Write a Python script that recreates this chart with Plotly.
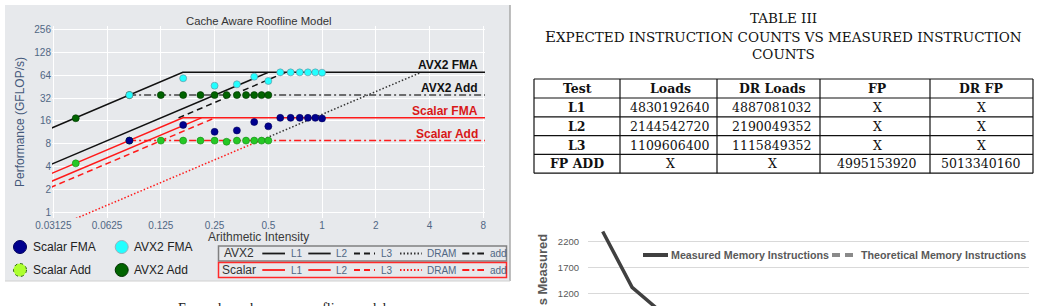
import math
import plotly.graph_objects as go

W, H = 1040, 306

# ---------------- data: cache aware roofline ----------------
ai_fma = [0.0833, 0.1667, 0.25, 0.3333, 0.4167, 0.5, 0.5833, 0.6667, 0.75, 0.8333, 0.9167, 1.0]
scalar_fma_perf = [8.8, 14.2, 11.5, 12.0, 15.5, 13.6, 17.6, 17.6, 17.6, 17.6, 17.6, 17.3]
avx2_fma_perf = [35.2, 58.8, 46.9, 48.9, 61.7, 54.1, 70.4, 70.4, 70.4, 70.4, 70.4, 69.7]
ai_add = [0.0417, 0.0833, 0.125, 0.1667, 0.2083, 0.25, 0.2917, 0.3333, 0.375, 0.4167, 0.4583, 0.5]
scalar_add_perf = [4.4, 8.8, 8.8, 8.8, 8.8, 8.8, 8.5, 8.8, 8.8, 8.8, 8.8, 8.8]
avx2_add_perf = [17.4, 35.2, 35.2, 35.2, 35.2, 35.2, 35.2, 35.2, 35.2, 35.2, 35.2, 35.2]

# roof segments: arithmetic intensity / GFLOP/s
avx2_l1_ai, avx2_l1_perf = [0.03, 0.166, 8.6], [12.7, 70.4, 70.4]
avx2_l2_ai, avx2_l2_perf = [0.03, 0.5], [4.22, 70.4]
avx2_l3_ai, avx2_l3_perf = [0.157, 0.625], [17.6, 70.4]
avx2_dram_ai, avx2_dram_perf = [0.449, 3.59], [8.8, 70.4]
avx2_add_ai, avx2_add_roof = [0.083, 8.6], [35.2, 35.2]
scalar_l1_ai, scalar_l1_perf = [0.03, 0.166, 8.6], [3.18, 17.6, 17.6]
scalar_l2_ai, scalar_l2_perf = [0.03, 0.211], [2.5, 17.6]
scalar_l3_ai, scalar_l3_perf = [0.03, 0.251], [2.1, 17.6]
scalar_dram_ai, scalar_dram_perf = [0.03, 0.449], [0.59, 8.8]
scalar_add_ai, scalar_add_roof = [0.083, 8.6], [8.8, 8.8]

roof_labels = ["AVX2 FMA", "AVX2 Add", "Scalar FMA", "Scalar Add"]
roof_label_values = [70.4, 35.2, 17.6, 8.8]

x_tickvals = [0.03125, 0.0625, 0.125, 0.25, 0.5, 1, 2, 4, 8]
x_ticktext = ["0.03125", "0.0625", "0.125", "0.25", "0.5", "1", "2", "4", "8"]
y_tickvals = [1, 2, 4, 8, 16, 32, 64, 128, 256]
y_ticktext = ["1", "2", "4", "8", "16", "32", "64", "128", "256"]

# ---------------- data: table ----------------
table_header = ["Test", "Loads", "DR Loads", "FP", "DR FP"]
table_tests = ["L1", "L2", "L3", "FP ADD"]
table_loads = ["4830192640", "2144542720", "1109606400", "X"]
table_dr_loads = ["4887081032", "2190049352", "1115849352", "X"]
table_fp = ["X", "X", "X", "4995153920"]
table_dr_fp = ["X", "X", "X", "5013340160"]

# ---------------- data: memory instruction chart (partial) ----------------
mem_x = [0, 1, 2]
mem_measured = [2394, 1316, 830]
mem_ticks = [1200, 1700, 2200]


def fx(px):
    return px / W


def fy(py):
    return 1 - py / H


SANS = "Liberation Sans, Arial, sans-serif"
SERIF = "DejaVu Serif, serif"
TICK = "#506784"

fig = go.Figure()


def roof(x, y, color, dash, width=1.5):
    fig.add_trace(go.Scatter(x=x, y=y, mode="lines", xaxis="x", yaxis="y",
                             line=dict(color=color, dash=dash, width=width),
                             showlegend=False, hoverinfo="skip"))


BLACK = "#111111"
RED = "#ff1a1a"
DOT = "1.5px,2px"
DASH = "6px,4px"
DASHDOT = "7px,3px,2px,3px"

roof(avx2_l1_ai, avx2_l1_perf, BLACK, "solid")
roof(avx2_l2_ai, avx2_l2_perf, BLACK, "solid")
roof(avx2_l3_ai, avx2_l3_perf, BLACK, DASH)
roof(avx2_dram_ai, avx2_dram_perf, "#333333", DOT)
roof(avx2_add_ai, avx2_add_roof, "#444444", DASHDOT)
roof(scalar_l1_ai, scalar_l1_perf, RED, "solid")
roof(scalar_l2_ai, scalar_l2_perf, RED, "solid")
roof(scalar_l3_ai, scalar_l3_perf, RED, DASH)
roof(scalar_dram_ai, scalar_dram_perf, RED, DOT)
roof(scalar_add_ai, scalar_add_roof, RED, DASHDOT)


def pts(x, y, color, outline):
    fig.add_trace(go.Scatter(x=x, y=y, mode="markers", xaxis="x", yaxis="y",
                             marker=dict(size=7, color=color, line=dict(color=outline, width=0.6)),
                             showlegend=False, hoverinfo="skip"))


pts(ai_add, scalar_add_perf, "#25c825", "#138a13")
pts(ai_add, avx2_add_perf, "#006400", "#003300")
pts(ai_fma, scalar_fma_perf, "#00008f", "#00005a")
pts(ai_fma, avx2_fma_perf, "#22ffff", "#6a8a9a")

# memory chart line
fig.add_trace(go.Scatter(x=mem_x, y=mem_measured, mode="lines", xaxis="x2", yaxis="y2",
                         line=dict(color="#404040", width=3.5), showlegend=False, hoverinfo="skip"))

shapes = []
annotations = []

# left panel background and border
shapes.append(dict(type="rect", xref="paper", yref="paper", x0=fx(5), x1=fx(510), y0=fy(281), y1=fy(5),
                   fillcolor="#e7e9ec", line=dict(width=0), layer="below"))
shapes.append(dict(type="line", xref="paper", yref="paper", x0=fx(510), x1=fx(510), y0=fy(281), y1=fy(5),
                   line=dict(color="#a8a8a8", width=1.5), layer="below"))
shapes.append(dict(type="line", xref="paper", yref="paper", x0=fx(5), x1=fx(510), y0=fy(281), y1=fy(281),
                   line=dict(color="#d0d0d0", width=1), layer="below"))

# title and axis titles
annotations.append(dict(text="Cache Aware Roofline Model", xref="paper", yref="paper", x=fx(258), y=fy(21),
                        showarrow=False, font=dict(family=SANS, size=11.3, color="#333333"),
                        xanchor="center", yanchor="middle"))
annotations.append(dict(text="Performance (GFLOP/s)", xref="paper", yref="paper", x=fx(20), y=fy(122),
                        showarrow=False, textangle=-90, font=dict(family=SANS, size=12, color="#44587a"),
                        xanchor="center", yanchor="middle"))
annotations.append(dict(text="Arithmetic Intensity", xref="paper", yref="paper", x=fx(258), y=fy(237),
                        showarrow=False, font=dict(family=SANS, size=12, color="#3a3a3a"),
                        xanchor="center", yanchor="middle"))

# roof labels
for lab, val, col in zip(roof_labels, roof_label_values, ["#111111", "#111111", "#d81818", "#d81818"]):
    annotations.append(dict(text="<b>%s</b>" % lab, xref="paper", yref="y", x=fx(480), y=math.log10(val),
                            yshift=7, showarrow=False, xanchor="right", yanchor="middle",
                            font=dict(family=SANS, size=12, color=col)))

# marker legend
marker_legend = [
    ("Scalar FMA", 20, 247, "#00008f", "#00005a", "solid"),
    ("AVX2 FMA", 121.7, 247, "#22ffff", "#9ab0bb", "solid"),
    ("Scalar Add", 20, 270, "#adff2f", "#2f6a10", "dot"),
    ("AVX2 Add", 121.7, 270, "#006400", "#003300", "solid"),
]
for name, cx, cy, fill, outline, dash in marker_legend:
    shapes.append(dict(type="circle", xref="paper", yref="paper", xsizemode="pixel", ysizemode="pixel",
                       xanchor=fx(cx), yanchor=fy(cy), x0=-6.5, x1=6.5, y0=-6.5, y1=6.5,
                       fillcolor=fill, line=dict(color=outline, width=1, dash=dash)))
    annotations.append(dict(text=name, xref="paper", yref="paper", x=fx(cx + 10.5), y=fy(cy),
                            showarrow=False, xanchor="left", yanchor="middle",
                            font=dict(family=SANS, size=12, color="#222222")))

# line-style legends
legend_rows = [("AVX2", 253.5, "#808080", "#1a1a1a", "#333333"),
               ("Scalar", 270, "#ff2a2a", RED, RED)]
samples = [("L1", 262.3, 285, "solid"), ("L2", 308.3, 330.7, "solid"), ("L3", 354, 375, DASH),
           ("DRAM", 400, 421.7, DOT), ("add", 462.3, 484, DASHDOT)]
for title, ry, border, col, dcol in legend_rows:
    shapes.append(dict(type="rect", xref="paper", yref="paper", x0=fx(218.5), x1=fx(506.5),
                       y0=fy(ry + 7.5), y1=fy(ry - 7.5), line=dict(color=border, width=1.5)))
    annotations.append(dict(text=title, xref="paper", yref="paper", x=fx(239), y=fy(ry - 0.5),
                            showarrow=False, xanchor="center", yanchor="middle",
                            font=dict(family=SANS, size=12, color="#333333")))
    for lab, x0, x1, dash in samples:
        c = dcol if dash == DOT else col
        shapes.append(dict(type="line", xref="paper", yref="paper", x0=fx(x0), x1=fx(x1),
                           y0=fy(ry), y1=fy(ry), line=dict(color=c, width=1.8, dash=dash)))
        annotations.append(dict(text=lab, xref="paper", yref="paper", x=fx(x1 + 3.5), y=fy(ry),
                                showarrow=False, xanchor="left", yanchor="middle",
                                font=dict(family=SANS, size=10, color=TICK)))

# figure caption (mostly cut off by the page edge)
annotations.append(dict(text="Example cache aware roofline model", xref="paper", yref="paper",
                        x=fx(282), y=fy(298.5), showarrow=False, xanchor="center", yanchor="top",
                        font=dict(family="Liberation Serif, serif", size=14, color="#222222")))

# table title
annotations.append(dict(text="TABLE III", xref="paper", yref="paper", x=fx(783), y=fy(18),
                        showarrow=False, xanchor="center", yanchor="middle",
                        font=dict(family=SERIF, size=13.5, color="#111111")))
annotations.append(dict(text="<span style='font-size:15px'>E</span>XPECTED INSTRUCTION COUNTS VS MEASURED INSTRUCTION",
                        xref="paper", yref="paper", x=fx(783), y=fy(36.5),
                        showarrow=False, xanchor="center", yanchor="middle",
                        font=dict(family=SERIF, size=13.5, color="#111111")))
annotations.append(dict(text="COUNTS", xref="paper", yref="paper", x=fx(783), y=fy(54),
                        showarrow=False, xanchor="center", yanchor="middle",
                        font=dict(family=SERIF, size=13.5, color="#111111")))

# table grid (drawn from column / row layout)
col_edges = [534, 620, 717, 820, 930, 1033]
col_centers = [577, 670, 772, 877, 981]
row_edges = [79, 98, 116.8, 135.6, 154.4, 173.2]
for xe in col_edges:
    shapes.append(dict(type="line", xref="paper", yref="paper", x0=fx(xe), x1=fx(xe),
                       y0=fy(row_edges[0]), y1=fy(row_edges[-1]), line=dict(color="#111111", width=1.2)))
for ye in row_edges:
    shapes.append(dict(type="line", xref="paper", yref="paper", x0=fx(col_edges[0]), x1=fx(col_edges[-1]),
                       y0=fy(ye), y1=fy(ye), line=dict(color="#111111", width=1.2)))
columns = [table_tests, table_loads, table_dr_loads, table_fp, table_dr_fp]
for ci, (head, colvals) in enumerate(zip(table_header, columns)):
    annotations.append(dict(text="<b>%s</b>" % head, xref="paper", yref="paper",
                            x=fx(col_centers[ci]), y=fy((row_edges[0] + row_edges[1]) / 2),
                            showarrow=False, xanchor="center", yanchor="middle",
                            font=dict(family=SERIF, size=12.5, color="#111111")))
    for ri, val in enumerate(colvals):
        txt = "<b>%s</b>" % val if ci == 0 else val
        annotations.append(dict(text=txt, xref="paper", yref="paper",
                                x=fx(col_centers[ci]), y=fy((row_edges[ri + 1] + row_edges[ri + 2]) / 2),
                                showarrow=False, xanchor="center", yanchor="middle",
                                font=dict(family=SERIF, size=12.5, color="#111111")))

# memory chart legend and title
shapes.append(dict(type="line", xref="paper", yref="paper", x0=fx(643), x1=fx(668), y0=fy(255), y1=fy(255),
                   line=dict(color="#404040", width=4)))
annotations.append(dict(text="<b>Measured Memory Instructions</b>", xref="paper", yref="paper",
                        x=fx(669), y=fy(255), showarrow=False, xanchor="left", yanchor="middle",
                        font=dict(family=SANS, size=10.7, color="#595959")))
shapes.append(dict(type="line", xref="paper", yref="paper", x0=fx(832), x1=fx(858), y0=fy(255), y1=fy(255),
                   line=dict(color="#8a8a8a", width=4, dash="8px,5px")))
annotations.append(dict(text="<b>Theoretical Memory Instructions</b>", xref="paper", yref="paper",
                        x=fx(859), y=fy(255), showarrow=False, xanchor="left", yanchor="middle",
                        font=dict(family=SANS, size=10.7, color="#595959")))
annotations.append(dict(text="<b>Instructions Measured</b>", xref="paper", yref="paper",
                        x=fx(542), y=fy(232), showarrow=False, textangle=-90,
                        xanchor="center", yanchor="top",
                        font=dict(family=SANS, size=13, color="#595959")))

fig.update_layout(
    width=W, height=H, margin=dict(l=0, r=0, t=0, b=0),
    paper_bgcolor="white", plot_bgcolor="rgba(0,0,0,0)",
    showlegend=False,
    xaxis=dict(domain=[fx(52), fx(485)], type="log", range=[math.log10(0.0307), math.log10(8.18)],
               tickvals=x_tickvals, ticktext=x_ticktext, anchor="y", automargin=False,
               gridcolor="white", gridwidth=1, zeroline=False, showline=False,
               tickfont=dict(family=SANS, size=10, color=TICK)),
    yaxis=dict(domain=[fy(218), fy(26)], type="log", range=[math.log10(0.833), math.log10(289)],
               tickvals=y_tickvals, ticktext=y_ticktext, anchor="x", automargin=False,
               gridcolor="white", gridwidth=1, zeroline=False, showline=False,
               tickfont=dict(family=SANS, size=10, color=TICK)),
    xaxis2=dict(domain=[fx(588), fx(1029)], range=[-0.5, 14.5], anchor="y2", visible=False,
                automargin=False),
    yaxis2=dict(domain=[0, fy(226)], range=[954, 2500], anchor="x2", tickvals=mem_ticks,
                automargin=False, gridcolor="#d9d9d9", gridwidth=1, zeroline=False, showline=False,
                ticklabelstandoff=8,
                tickfont=dict(family=SANS, size=9.5, color="#595959")),
    shapes=shapes, annotations=annotations,
)

fig.write_html("out.html")
